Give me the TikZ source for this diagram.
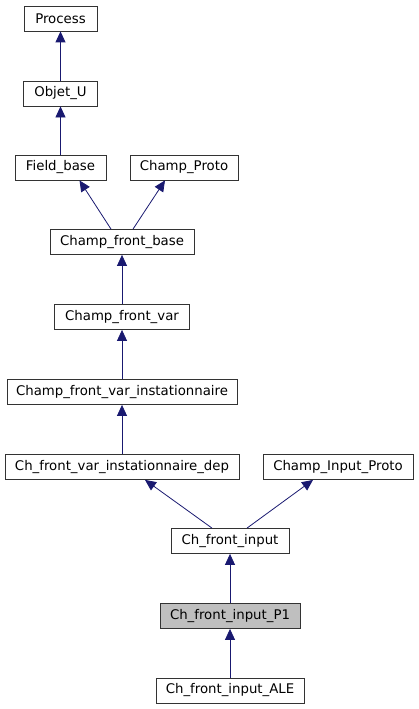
\documentclass[tikz,border=0pt]{standalone}
\usepackage{fontspec}
\setmainfont{DejaVu Sans}
\usetikzlibrary{arrows.meta}
\definecolor{edgeblue}{RGB}{25,25,112}
\tikzset{
  cls/.style={draw=black!80, fill=white, line width=0.8pt, minimum height=25pt,
    inner sep=0pt, font=\fontsize{13.3}{15}\selectfont},
  here/.style={cls, fill=black!25},
  inh/.style={draw=edgeblue, line width=0.8pt, {Triangle[length=11pt,width=10pt,fill=edgeblue]}-},
}
\begin{document}
\begin{tikzpicture}[x=1pt,y=-1pt]
        \useasboundingbox (0,0) rectangle (418,709);
        \node[cls, minimum width=73pt] (process) at (60.5,18.5) {Process};
        \node[cls, minimum width=74pt] (objet) at (60.5,93.5) {Objet\_U};
        \node[cls, minimum width=91pt] (field) at (60.5,167.5) {Field\_base};
        \node[cls, minimum width=108pt] (cproto) at (184,167.5) {Champ\_Proto};
        \node[cls, minimum width=144pt] (cfb) at (122,242) {Champ\_front\_base};
        \node[cls, minimum width=135pt] (cfv) at (122,317) {Champ\_front\_var};
        \node[cls, minimum width=230pt] (cfvi) at (122,392) {Champ\_front\_var\_instationnaire};
        \node[cls, minimum width=234pt] (cfvid) at (122,467) {Ch\_front\_var\_instationnaire\_dep};
        \node[cls, minimum width=150pt] (cip) at (338,467) {Champ\_Input\_Proto};
        \node[cls, minimum width=118pt] (cfi) at (230,541) {Ch\_front\_input};
        \node[here, minimum width=140pt] (p1) at (230,616) {Ch\_front\_input\_P1};
        \node[cls, minimum width=148pt] (ale) at (230,690.5) {Ch\_front\_input\_ALE};

        \draw[inh] (process) -- (objet);
        \draw[inh] (objet) -- (field);
        \draw[inh] ([xshift=19pt]field.south) -- ([xshift=-11pt]cfb.north);
        \draw[inh] ([xshift=-19pt]cproto.south) -- ([xshift=11pt]cfb.north);
        \draw[inh] (cfb) -- (cfv);
        \draw[inh] (cfv) -- (cfvi);
        \draw[inh] (cfvi) -- (cfvid);
        \draw[inh] ([xshift=23pt]cfvid.south) -- ([xshift=-18pt]cfi.north);
        \draw[inh] ([xshift=-25pt]cip.south) -- ([xshift=17pt]cfi.north);
        \draw[inh] (cfi) -- (p1);
        \draw[inh] (p1) -- (ale);
\end{tikzpicture}
\end{document}
